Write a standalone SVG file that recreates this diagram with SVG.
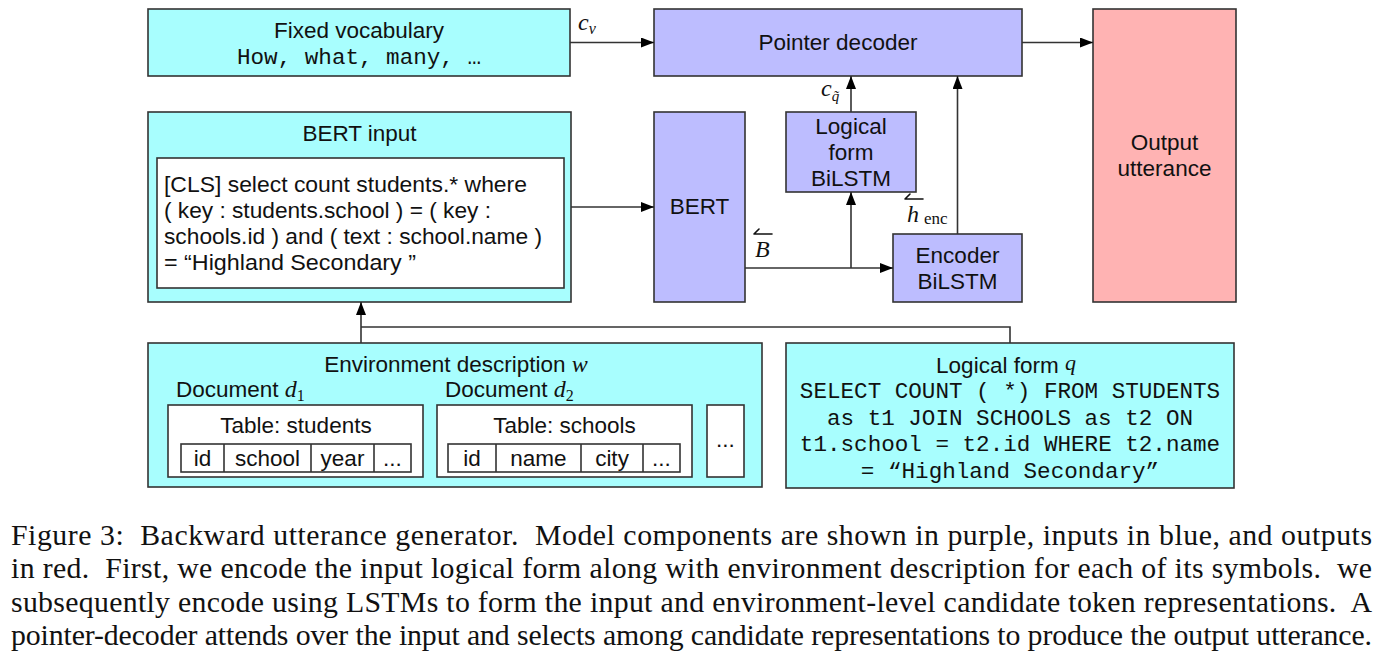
<svg xmlns="http://www.w3.org/2000/svg" width="1384" height="669" viewBox="0 0 1384 669">
<style>
.inp{fill:#A8FEFE;stroke:#333;stroke-width:1.6}
.mod{fill:#BDBDFF;stroke:#333;stroke-width:1.6}
.out{fill:#FFB3B3;stroke:#333;stroke-width:1.6}
.wb{fill:#fff;stroke:#333;stroke-width:1.6}
.s{font-family:"Liberation Sans",Arial,sans-serif;font-size:22.5px;fill:#111}
.c{text-anchor:middle}
.m{font-family:"Liberation Mono","Courier New",monospace;font-size:22.6px;fill:#111}
.mi{font-family:"Liberation Serif","Times New Roman",serif;font-style:italic;fill:#111}
.rm{font-family:"Liberation Serif","Times New Roman",serif;font-style:normal;fill:#111}
.har{stroke:#111;stroke-width:1.6;fill:none;stroke-linecap:round}
.cap{font-family:"Liberation Serif","Times New Roman",serif;font-size:29.8px;fill:#111;white-space:pre}
.ln{stroke:#333;stroke-width:1.6;fill:none}
</style>
<defs>
<marker id="ah" markerUnits="userSpaceOnUse" markerWidth="13" markerHeight="10" refX="13" refY="5" orient="auto"><path d="M0,0 L13,5 L0,10 z" fill="#000"/></marker>
</defs>

<g id="fixed-vocabulary">
<rect class="inp" x="148" y="9" width="422" height="67"/>
<text class="s c" x="359" y="38">Fixed vocabulary</text>
<text class="m c" x="359" y="64">How, what, many, …</text>
</g>

<g id="bert-input">
<rect class="inp" x="148" y="112" width="423" height="190"/>
<text class="s c" x="359.5" y="141">BERT input</text>
<rect class="wb" x="157" y="158" width="407" height="130"/>
<text class="s" x="164" y="192" textLength="363" lengthAdjust="spacingAndGlyphs">[CLS] select count students.* where</text>
<text class="s" x="164" y="218" textLength="327" lengthAdjust="spacingAndGlyphs">( key : students.school ) = ( key :</text>
<text class="s" x="164" y="244" textLength="378" lengthAdjust="spacingAndGlyphs">schools.id ) and ( text : school.name )</text>
<text class="s" x="164" y="270" textLength="252" lengthAdjust="spacingAndGlyphs">= “Highland Secondary ”</text>
</g>

<g id="pointer-decoder">
<rect class="mod" x="654" y="9" width="368" height="67"/>
<text class="s c" x="838" y="50">Pointer decoder</text>
</g>

<g id="bert">
<rect class="mod" x="654" y="112" width="91" height="190"/>
<text class="s c" x="699.5" y="214">BERT</text>
</g>

<g id="logical-form-bilstm">
<rect class="mod" x="786" y="112" width="130" height="80"/>
<text class="s c" x="851" y="134">Logical</text>
<text class="s c" x="851" y="160">form</text>
<text class="s c" x="851" y="186">BiLSTM</text>
</g>

<g id="encoder-bilstm">
<rect class="mod" x="893" y="234" width="129" height="68"/>
<text class="s c" x="957.5" y="263">Encoder</text>
<text class="s c" x="957.5" y="289">BiLSTM</text>
</g>

<g id="output-utterance">
<rect class="out" x="1093" y="9" width="143" height="293"/>
<text class="s c" x="1164.5" y="150">Output</text>
<text class="s c" x="1164.5" y="176">utterance</text>
</g>

<g id="environment-description">
<rect class="inp" x="148" y="343" width="614" height="144"/>
<text class="s c" x="456" y="372">Environment description <tspan class="mi" font-size="24">w</tspan></text>
<text class="s" x="176" y="397">Document <tspan class="mi" font-size="24">d</tspan><tspan class="rm" font-size="16" dy="4">1</tspan></text>
<text class="s" x="445" y="397">Document <tspan class="mi" font-size="24">d</tspan><tspan class="rm" font-size="16" dy="4">2</tspan></text>
<g id="table-students">
<rect class="wb" x="168" y="405" width="255" height="72"/>
<text class="s c" x="296" y="433">Table: students</text>
<rect class="wb" x="181" y="444" width="230" height="28"/>
<path class="ln" d="M224,444V472M311,444V472M374,444V472"/>
<text class="s c" x="202.5" y="466">id</text>
<text class="s c" x="267.5" y="466">school</text>
<text class="s c" x="342.5" y="466">year</text>
<text class="s c" x="392.5" y="466">...</text>
</g>
<g id="table-schools">
<rect class="wb" x="437" y="405" width="255" height="72"/>
<text class="s c" x="564.5" y="433">Table: schools</text>
<rect class="wb" x="448" y="444" width="232" height="28"/>
<path class="ln" d="M496,444V472M581,444V472M643,444V472"/>
<text class="s c" x="472" y="466">id</text>
<text class="s c" x="538.5" y="466">name</text>
<text class="s c" x="612" y="466">city</text>
<text class="s c" x="661.5" y="466">...</text>
</g>
<g id="more-documents">
<rect class="wb" x="707" y="405" width="37" height="72"/>
<text class="s c" x="725.5" y="447">...</text>
</g>
</g>

<g id="logical-form-q">
<rect class="inp" x="786" y="343" width="448" height="145"/>
<text class="s c" x="1006" y="373">Logical form <tspan class="mi" font-size="22" dy="-3">q</tspan></text>
<text class="m c" x="1010" y="398">SELECT COUNT ( *) FROM STUDENTS</text>
<text class="m c" x="1010" y="425">as t1 JOIN SCHOOLS as t2 ON</text>
<text class="m c" x="1010" y="451">t1.school = t2.id WHERE t2.name</text>
<text class="m c" x="1010" y="478">= “Highland Secondary”</text>
</g>

<g id="connectors">
<line class="ln" x1="570" y1="42.5" x2="654" y2="42.5" marker-end="url(#ah)"/>
<line class="ln" x1="1022" y1="42.5" x2="1093" y2="42.5" marker-end="url(#ah)"/>
<line class="ln" x1="571" y1="207" x2="654" y2="207" marker-end="url(#ah)"/>
<line class="ln" x1="745" y1="268" x2="893" y2="268" marker-end="url(#ah)"/>
<line class="ln" x1="851" y1="268" x2="851" y2="192" marker-end="url(#ah)"/>
<line class="ln" x1="851" y1="112" x2="851" y2="76" marker-end="url(#ah)"/>
<line class="ln" x1="957.5" y1="234" x2="957.5" y2="76" marker-end="url(#ah)"/>
<line class="ln" x1="361" y1="343" x2="361" y2="302" marker-end="url(#ah)"/>
<polyline class="ln" points="1010,343 1010,327 361,327"/>
</g>

<g id="labels">
<text class="mi" x="578" y="30" font-size="24">c<tspan class="mi" font-size="16" dy="4">v</tspan></text>
<text class="mi" x="821" y="96" font-size="24">c<tspan class="mi" font-size="15" dy="5">q̃</tspan></text>
<path class="har" d="M905,199H923M905,199L910,194"/>
<text class="mi" x="907" y="222" font-size="24">h</text>
<text class="rm" x="924" y="224" font-size="17">enc</text>
<path class="har" d="M754,234H772M754,234L759,229"/>
<text class="mi" x="755" y="257" font-size="24">B</text>
</g>

<g id="caption">
<text class="cap" x="11" y="545" textLength="1361" lengthAdjust="spacing">Figure 3:  Backward utterance generator.  Model components are shown in purple, inputs in blue, and outputs</text>
<text class="cap" x="11" y="578" textLength="1361" lengthAdjust="spacing">in red.  First, we encode the input logical form along with environment description for each of its symbols.  we</text>
<text class="cap" x="11" y="612" textLength="1361" lengthAdjust="spacing">subsequently encode using LSTMs to form the input and environment-level candidate token representations.  A</text>
<text class="cap" x="11" y="645" textLength="1361" lengthAdjust="spacing">pointer-decoder attends over the input and selects among candidate representations to produce the output utterance.</text>
</g>
</svg>
